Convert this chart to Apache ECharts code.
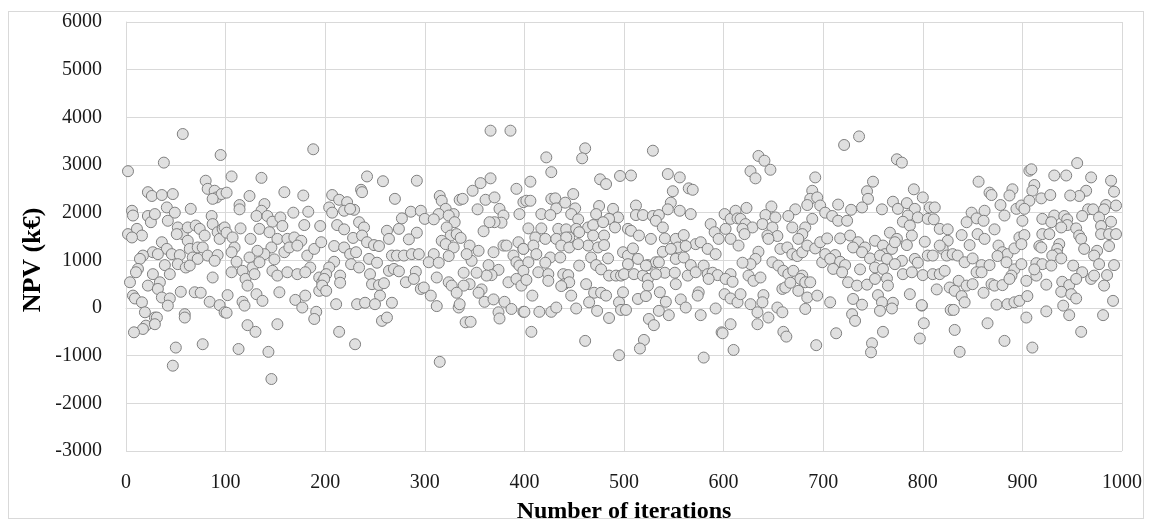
<!DOCTYPE html>
<html><head><meta charset="utf-8">
<script src="https://cdn.jsdelivr.net/npm/echarts@6/dist/echarts.min.js"></script>
<style>html,body{margin:0;padding:0;background:#fff;}
#frame{position:absolute;left:8px;top:11px;width:1136px;height:508px;border:1px solid #d9d9d9;box-sizing:border-box;}
#chart{position:absolute;left:0;top:0;width:1152px;height:526px;}</style>
</head><body><div id="frame"></div><div id="chart"></div>
<script>
const xTicks = [0,100,200,300,400,500,600,700,800,900,1000];
const yTicks = [-3000,-2000,-1000,0,1000,2000,3000,4000,5000,6000];
const xTitle = 'Number of iterations';
const yTitle = 'NPV (k€)';

const block0 = [[57,3650],[95,3210],[38,3050],[2,2870],[80,2670],[82,2500],[89,2460],[91,2320],[96,2390],[87,2290],[22,2430],[26,2350],[36,2370],[47,2390],[6,2040],[7,1940],[22,1930],[25,1800],[29,1970],[41,2110],[49,2000],[42,1830],[65,2080],[86,1930],[87,1760],[52,1690],[57,1550],[62,1690],[70,1730],[74,1660],[79,1520],[2,1550],[11,1660],[16,1520],[6,1480],[51,1550],[62,1410],[64,1240],[72,1270],[77,1270],[92,1590],[94,1450],[97,1660],[36,1380],[41,1240],[46,1130],[54,1110],[27,1170],[32,1130],[17,1100],[14,1030],[67,1060],[72,1030],[82,1100],[92,1110],[89,990],[39,900],[52,920],[60,850],[64,890],[12,820],[10,750],[4,540],[27,710],[34,540],[22,470],[44,710],[87,640],[32,400],[36,220],[44,200],[55,340],[69,330],[75,320],[7,260],[9,200],[16,120],[19,-90],[29,-200],[20,-370],[17,-440],[8,-510],[42,50],[59,-130],[59,-200],[84,130],[94,60],[99,-90],[31,-200],[29,-340],[50,-830],[77,-760],[47,-1210]];
const block1 = [[188,3330],[106,2760],[136,2730],[159,2430],[178,2360],[101,2420],[124,2350],[114,2160],[114,2070],[139,2180],[136,2040],[131,1930],[142,1930],[147,1810],[155,1900],[157,1720],[168,2000],[183,2020],[179,1740],[195,1720],[99,1690],[101,1580],[107,1480],[115,1670],[134,1660],[144,1590],[152,1450],[162,1450],[169,1480],[176,1410],[125,1450],[146,1270],[139,1130],[132,1200],[109,1270],[159,1170],[164,1270],[172,1310],[182,1100],[189,1240],[196,1380],[106,1170],[124,1060],[127,850],[134,960],[149,1020],[111,970],[106,750],[117,780],[120,610],[129,710],[147,780],[152,680],[162,750],[172,710],[185,850],[180,750],[194,640],[197,540],[194,360],[122,470],[131,290],[137,150],[154,330],[102,270],[101,-100],[117,130],[119,50],[170,170],[180,260],[177,10],[191,-80],[189,-230],[122,-360],[130,-500],[152,-340],[113,-860],[143,-920],[146,-1490]];
const block2 = [[242,2760],[236,2480],[237,2430],[258,2660],[292,2670],[270,2290],[207,2370],[214,2270],[222,2220],[229,2060],[204,2110],[207,2000],[219,2040],[225,2080],[212,1740],[219,1650],[234,1800],[239,1690],[228,1470],[237,1520],[242,1380],[249,1320],[254,1300],[262,1620],[264,1450],[274,1660],[277,1880],[286,2020],[296,2040],[292,1580],[284,1440],[209,1300],[219,1270],[225,1130],[231,1170],[209,970],[204,850],[201,710],[199,610],[197,470],[201,360],[215,680],[215,530],[226,920],[234,850],[244,1030],[252,950],[245,710],[247,500],[254,480],[259,520],[264,780],[269,820],[274,770],[267,1100],[272,1100],[279,1100],[287,1130],[294,1130],[291,760],[281,540],[289,610],[296,400],[299,430],[255,260],[211,80],[232,80],[240,110],[250,80],[267,110],[257,-270],[262,-200],[214,-500],[230,-760]];
const block3 = [[366,3720],[386,3720],[366,2720],[356,2620],[348,2460],[392,2500],[315,2350],[317,2250],[321,2080],[314,1970],[335,2270],[338,2290],[361,2270],[370,2320],[353,2070],[375,2080],[379,1940],[377,1790],[370,1800],[365,1800],[359,1610],[300,1870],[309,1860],[329,1970],[324,1940],[330,1800],[322,1690],[326,1520],[332,1550],[336,1470],[395,1970],[399,2220],[317,1410],[321,1340],[329,1270],[324,1090],[345,1310],[354,1200],[347,990],[342,1130],[369,1170],[379,1310],[382,1310],[389,1100],[394,1380],[399,1240],[392,960],[395,890],[309,1130],[304,960],[314,950],[364,900],[374,800],[367,690],[362,680],[339,740],[352,740],[345,500],[339,470],[384,540],[392,610],[306,260],[312,640],[324,540],[327,470],[332,320],[357,390],[354,320],[360,130],[369,180],[380,130],[312,40],[334,10],[335,80],[387,-20],[399,-80],[374,-90],[375,-220],[341,-300],[346,-290],[315,-1130]];
const block4 = [[461,3350],[458,3140],[422,3160],[427,2850],[406,2650],[476,2700],[482,2600],[496,2770],[449,2390],[402,2250],[406,2250],[427,2290],[431,2300],[432,2090],[441,2210],[451,2090],[417,1970],[426,1950],[447,1970],[475,2140],[489,2080],[472,1970],[494,1900],[485,1870],[454,1860],[464,1690],[469,1740],[479,1800],[491,1690],[480,1520],[404,1670],[417,1670],[434,1660],[442,1650],[445,1480],[452,1660],[455,1590],[469,1520],[464,1310],[474,1270],[480,1320],[411,1480],[421,1450],[432,1450],[442,1480],[399,1240],[409,1310],[412,1130],[437,1310],[445,1270],[454,1340],[426,1060],[436,1060],[421,950],[404,960],[467,1060],[472,900],[455,890],[484,1040],[477,810],[485,680],[492,680],[497,680],[399,780],[397,470],[414,750],[424,710],[424,570],[402,590],[439,710],[444,690],[440,500],[445,540],[437,460],[462,500],[470,320],[477,320],[482,260],[465,120],[447,260],[408,260],[400,-80],[415,-80],[427,-80],[432,10],[452,-10],[473,-60],[485,-210],[495,120],[497,-40],[407,-500],[461,-690],[495,-990]];
const block5 = [[529,3300],[507,2780],[544,2810],[556,2740],[565,2510],[569,2480],[549,2450],[512,2150],[512,1950],[519,1950],[547,2210],[544,2070],[556,2040],[567,1970],[529,1930],[535,1950],[532,1830],[539,1690],[587,1760],[591,1590],[595,1450],[504,1660],[507,1620],[515,1520],[527,1450],[541,1460],[552,1450],[560,1530],[539,1180],[572,1340],[577,1380],[584,1240],[592,1130],[554,1270],[562,1300],[547,1240],[552,1030],[560,1060],[499,1170],[504,1100],[509,1250],[514,1030],[504,920],[524,900],[532,960],[535,960],[500,710],[510,710],[519,680],[522,890],[541,740],[551,740],[552,500],[564,680],[567,900],[572,750],[580,890],[584,710],[589,740],[594,690],[585,610],[524,610],[524,470],[532,710],[499,330],[514,190],[522,250],[536,330],[542,130],[557,180],[562,10],[575,330],[574,260],[502,-40],[535,-60],[545,-150],[577,-150],[525,-230],[530,-360],[592,-10],[598,-510],[520,-670],[516,-850],[580,-1040]];
const block6 = [[635,3190],[641,3090],[647,2900],[627,2870],[632,2720],[692,2740],[689,2460],[687,2290],[684,2160],[694,2320],[697,2150],[623,2100],[648,2130],[672,2070],[601,1970],[607,1870],[612,2040],[614,1880],[617,1870],[622,1760],[629,1690],[642,1950],[652,1900],[665,1930],[669,1690],[639,1760],[649,1690],[654,1510],[689,1870],[682,1690],[679,1550],[675,1450],[602,1660],[607,1450],[615,1310],[619,1660],[621,1550],[644,1520],[645,1450],[657,1240],[664,1270],[669,1130],[674,1090],[679,1170],[684,1310],[692,1250],[697,1380],[635,1180],[632,1030],[627,920],[619,950],[649,960],[655,890],[660,780],[665,710],[670,780],[607,710],[602,610],[609,550],[625,680],[630,570],[637,640],[679,680],[677,610],[682,540],[687,540],[659,400],[662,430],[667,530],[675,360],[684,220],[694,260],[699,960],[601,290],[607,200],[614,120],[617,290],[640,270],[639,120],[627,80],[634,-90],[645,-200],[654,10],[659,-90],[682,-20],[607,-340],[599,-530],[634,-340],[660,-500],[663,-600],[610,-880],[693,-780]];
const block7 = [[721,3420],[736,3600],[774,3120],[779,3050],[750,2650],[791,2490],[744,2450],[745,2290],[715,2170],[728,2060],[739,2110],[770,2230],[775,2080],[784,2200],[792,2080],[759,2070],[702,2000],[709,1930],[715,1830],[724,1830],[785,1940],[780,1810],[787,1730],[795,1900],[767,1580],[774,1450],[789,1520],[784,1320],[704,1460],[717,1460],[727,1520],[735,1380],[730,1270],[742,1270],[752,1410],[760,1310],[762,1130],[769,1240],[772,1380],[702,1130],[712,1110],[707,1030],[717,970],[739,1170],[747,1040],[757,1100],[764,1030],[779,990],[792,1030],[795,950],[722,900],[737,810],[752,850],[760,820],[772,920],[710,820],[719,750],[725,540],[734,470],[744,490],[752,610],[764,620],[765,470],[780,710],[789,750],[707,120],[730,190],[739,70],[755,270],[759,120],[787,290],[770,110],[757,-60],[769,-10],[799,50],[729,-130],[732,-270],[713,-530],[760,-500],[749,-740],[748,-930],[797,-640]];
const block8 = [[856,2650],[867,2420],[869,2370],[890,2490],[887,2360],[800,2320],[807,2110],[812,2110],[878,2160],[882,1940],[894,2080],[899,2150],[849,2000],[854,1880],[862,2040],[861,1830],[805,1870],[811,1860],[817,1660],[825,1650],[844,1800],[839,1530],[855,1550],[847,1320],[862,1450],[872,1650],[802,1390],[825,1410],[820,1240],[817,1310],[876,1310],[880,1170],[885,1130],[892,1250],[897,1480],[805,1100],[810,1100],[824,1100],[830,1130],[835,1100],[842,960],[850,1040],[800,690],[859,900],[867,900],[875,1090],[884,960],[892,810],[899,920],[810,710],[817,710],[822,780],[854,750],[859,750],[836,570],[827,430],[832,360],[844,470],[850,500],[869,500],[872,470],[880,480],[889,680],[887,610],[814,390],[839,250],[842,120],[861,320],[799,60],[828,-40],[831,-40],[874,70],[885,80],[892,120],[897,150],[801,-320],[832,-460],[865,-320],[882,-690],[837,-920]];
const block9 = [[955,3040],[907,2880],[909,2910],[932,2780],[944,2780],[969,2740],[989,2670],[992,2440],[912,2580],[910,2460],[964,2460],[957,2350],[948,2360],[907,2250],[919,2300],[928,2370],[984,2160],[982,2070],[994,2150],[902,2080],[900,1830],[966,2070],[971,2070],[960,1930],[977,1900],[920,1870],[932,1940],[942,1930],[945,1860],[945,1740],[929,1800],[939,1690],[954,1670],[979,1720],[989,1810],[902,1530],[920,1550],[927,1550],[957,1520],[959,1450],[979,1550],[987,1550],[994,1550],[899,1340],[917,1300],[919,1270],[937,1340],[935,1240],[962,1240],[987,1300],[935,1130],[930,1100],[939,1040],[975,1200],[972,1100],[914,940],[920,920],[929,890],[951,890],[977,920],[992,900],[914,680],[904,570],[912,810],[924,490],[940,550],[947,480],[960,750],[954,610],[969,610],[972,680],[985,690],[982,470],[939,340],[949,290],[954,200],[905,250],[904,-200],[924,-70],[941,50],[947,-150],[981,-150],[991,150],[959,-500],[910,-830]];

const allPoints = [].concat(block0, block1, block2, block3, block4, block5, block6, block7, block8, block9);

const chart = echarts.init(document.getElementById('chart'), null, {renderer: 'canvas'});
const serif = '"Liberation Serif", "DejaVu Serif", serif';
const gridColor = '#d9d9d9';
const plain = v => String(v);
chart.setOption({
  animation: false,
  backgroundColor: 'transparent',
  grid: {left: 126, right: 30, top: 22, bottom: 75, containLabel: false},
  xAxis: {
    type: 'value', min: xTicks[0], max: xTicks[xTicks.length-1], interval: 100,
    axisLine: {show: true, lineStyle: {color: gridColor, width: 1}},
    axisTick: {show: false},
    splitLine: {show: true, lineStyle: {color: gridColor, width: 1}},
    axisLabel: {fontFamily: serif, fontSize: 20, color: '#1a1a1a', margin: 22, formatter: plain}
  },
  yAxis: {
    type: 'value', min: yTicks[0], max: yTicks[yTicks.length-1], interval: 1000,
    axisLine: {show: true, lineStyle: {color: gridColor, width: 1}},
    axisTick: {show: false},
    splitLine: {show: true, lineStyle: {color: gridColor, width: 1}},
    axisLabel: {fontFamily: serif, fontSize: 20, color: '#1a1a1a', margin: 24, formatter: plain}
  },
  graphic: [
    {type: 'text', x: 624, y: 512, style: {text: xTitle, font: 'bold 24px ' + serif, fill: '#000', textAlign: 'center', textVerticalAlign: 'middle'}},
    {type: 'text', x: 33, y: 260, rotation: Math.PI/2, style: {text: yTitle, font: 'bold 26px ' + serif, fill: '#000', textAlign: 'center', textVerticalAlign: 'middle'}}
  ],
  series: [{
    type: 'scatter', data: allPoints, symbol: 'circle', symbolSize: 11, silent: true,
    itemStyle: {color: '#e0e0e0', borderColor: '#7f7f7f', borderWidth: 1, opacity: 1}
  }]
});
</script></body></html>
